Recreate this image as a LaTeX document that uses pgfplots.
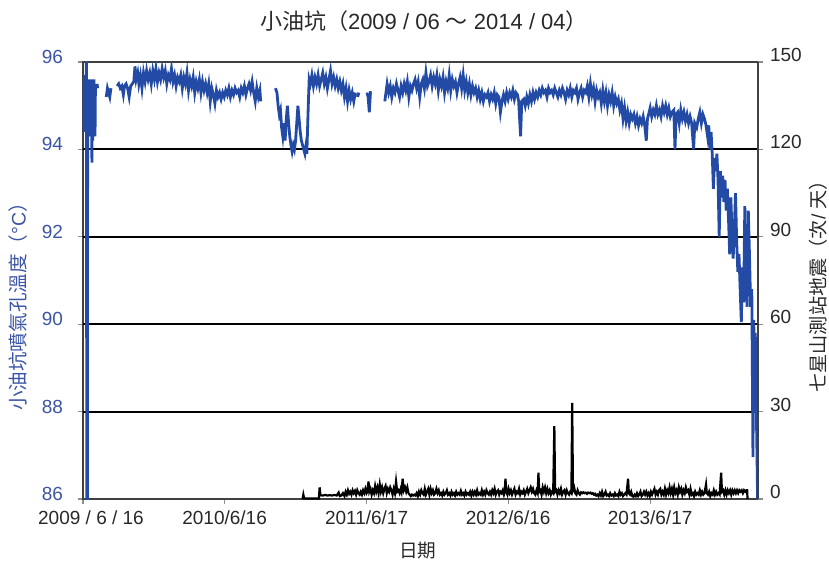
\documentclass[border=0pt]{standalone}
\usepackage{pgfplots}
\pgfplotsset{compat=1.18}
\usepackage{fontspec}
\setmainfont{Liberation Sans}
\newfontfamily\cjk{Noto Sans CJK TC}
\definecolor{tblue}{RGB}{35,75,165}
\definecolor{lblue}{RGB}{60,85,165}
\definecolor{tgray}{RGB}{40,40,40}
\begin{document}
\begin{tikzpicture}
\pgfplotsset{
  common/.style={scale only axis, width=337.5pt, height=218.5pt, xmin=0, xmax=1740,
    /pgf/number format/assume math mode=true,
    tick align=outside, major tick length=2.5pt,
    every tick/.style={black!45, line width=0.6pt},
    tick label style={font=\fontsize{9.5}{11}\selectfont},
    axis line style={black!75, line width=1pt},
    clip mode=individual,
  }
}
\begin{axis}[common, name=main, ymin=86, ymax=96, ytick={86,88,...,96}, ytick pos=left, xtick pos=bottom,
  xtick={0,365,731,1096,1462},
  xticklabels={\hspace*{8pt}2009 / 6 / 16,2010/6/16,2011/6/17,2012/6/16,2013/6/17},
  xticklabel style={text=tgray},
  yticklabel style={text=lblue, yshift=2.5pt, xshift=-4pt},
  extra y ticks={88,90,92,94}, extra y tick labels={},
  extra y tick style={ymajorgrids=true, major tick length=0pt},
  major grid style={black, line width=1pt},
  unbounded coords=jump]
\addplot[tblue, line width=1.4pt] coordinates {
(1,94.6)(2,95.6)(3,94.4)(4,95.7)(5,94.5)(6,95.5)(7,94.8)(8,95.6)(9,96.5)(10,80)(11,80)(12,95.2)(13,94.5)(14,95.6)(15,94.3)(16,95.5)(17,94.6)(18,95.6)(19,94.4)(20,95.4)(21,94.8)(22,95.6)(23,93.7)(24,95.5)(25,94.2)(26,95.4)(27,94.4)(28,95.6)(29,94.8)(30,95.5)(31,94.3)(32,95.4)(33,nan)
(36,95.5)(38,95.4)(39,nan)
(60,95.2)(63,95.4)(66,95.3)(69,95.2)(72,95.4)(73,nan)
(88,95.45)(92,95.5)(96,95.4)(100,95.45)(104,95.25)(107,95.45)(111,95.5)(115,95.4)(119,95.2)(123,95.45)(127,95.5)(131,95.55)(134,95.9)(137,95.6)
(141,95.75)(144,95.5)(148,95.7)(152,95.4)(156,95.75)(160,95.55)(164,95.8)(168,95.6)(172,95.75)(176,95.5)(180,95.8)(184,95.6)(188,95.85)(192,95.55)(196,95.75)(200,95.6)(204,95.85)(208,95.65)(212,95.8)(216,95.5)(220,95.7)(224,95.6)(228,95.85)(232,95.55)(236,95.7)(240,95.45)(244,95.65)(248,95.55)
(252,95.7)(256,95.4)(260,95.65)(264,95.5)(268,95.75)(272,95.35)(276,95.6)(280,95.45)(284,95.65)(288,95.3)(292,95.55)(296,95.4)(300,95.6)(304,95.3)(308,95.55)(312,95.35)(316,95.5)
(320,95.3)(324,95.5)(328,95.1)(332,95.4)(336,95.25)(340,95.05)(344,95.35)(348,95.2)(352,95.3)
(356,95.15)(360,95.3)(364,95.2)(368,95.35)(372,95.25)(376,95.4)(380,95.2)(384,95.35)(388,95.25)(392,95.4)(396,95.3)(400,95.35)(404,95.2)(408,95.4)(412,95.3)(416,95.45)(420,95.25)(424,95.4)
(428,95.5)(432,95.35)(436,95.55)(440,95.3)(444,95.1)(448,95.4)(452,95.2)(456,95.35)(458,95.1)(459,nan)
(496,95.4)(500,95.3)(503,95.0)(506,94.8)(509,94.9)(512,94.5)(515,94.3)(518,94.6)(521,94.2)(524,94.7)(527,95.0)(530,94.6)(533,94.3)(536,94.1)(539,93.95)(542,94.1)(545,94.0)(548,94.2)(551,94.6)(554,95.0)(557,94.7)(560,94.4)(563,94.2)(566,94.1)(569,94.0)(572,93.9)(575,94.1)(577,93.9)(580,94.8)(583,95.6)
(586,95.5)(590,95.7)(594,95.45)(598,95.65)(602,95.5)(606,95.7)(610,95.45)(614,95.6)(618,95.75)(622,95.5)(626,95.65)(630,95.4)(634,95.6)(638,95.8)(642,95.5)(646,95.65)(650,95.45)(654,95.6)(658,95.4)(662,95.55)(666,95.35)(670,95.5)
(674,95.2)(678,95.4)(682,95.1)(686,95.35)(690,95.15)(694,95.3)(698,95.1)(702,95.3)(703,nan)
(708,95.2)(711,95.3)(712,nan)
(732,95.3)(735,95.2)(738,94.85)(741,95.3)(744,95.3)(745,nan)
(778,95.1)(781,95.3)(784,95.5)(788,95.3)(792,95.45)(796,95.2)(800,95.4)(804,95.3)(808,95.5)(812,95.35)(816,95.2)(820,95.45)(824,95.3)(828,95.5)(832,95.35)(836,95.55)(840,95.2)(844,95.45)(848,95.35)(852,95.5)(856,95.6)(860,95.4)(864,95.55)(868,95.2)(872,95.5)(876,95.6)(880,95.4)(884,95.75)(888,95.45)
(892,95.55)(896,95.7)(900,95.45)(904,95.65)(908,95.5)(912,95.7)(916,95.35)(920,95.6)(924,95.45)(928,95.65)(932,95.3)(936,95.55)(940,95.4)(944,95.7)(948,95.35)(952,95.6)(956,95.45)(960,95.55)(964,95.3)(968,95.5)(972,95.65)(976,95.4)(980,95.7)(984,95.35)(988,95.55)(992,95.3)(996,95.5)(1000,95.25)(1004,95.45)(1008,95.3)(1012,95.4)
(1016,95.2)(1020,95.35)(1024,95.15)(1028,95.3)(1032,95.1)(1036,95.25)(1040,95.2)(1044,95.3)(1048,95.1)(1052,95.25)(1056,95.15)(1060,95.3)(1064,95.05)(1068,95.25)(1072,95.2)
(1076,94.85)(1080,95.1)(1084,95.25)(1088,95.1)(1092,95.3)(1096,95.15)(1100,95.3)(1104,95.2)(1108,95.35)(1112,95.15)(1116,95.3)(1120,95.25)(1123,95.1)(1128,94.3)(1131,95.1)
(1136,95.15)(1140,95.0)(1144,95.2)(1148,95.05)(1152,95.25)(1156,95.1)(1160,95.3)(1164,95.15)(1168,95.3)(1172,95.2)(1176,95.35)
(1180,95.25)(1184,95.4)(1188,95.3)(1192,95.35)(1196,95.2)(1200,95.4)(1204,95.3)(1208,95.35)(1212,95.25)(1216,95.4)(1220,95.3)(1224,95.2)(1228,95.35)(1232,95.25)(1236,95.4)(1240,95.3)(1244,95.15)(1248,95.35)(1252,95.25)(1256,95.4)(1260,95.2)(1264,95.35)(1268,95.3)(1272,95.4)(1276,95.15)(1280,95.3)(1284,95.4)(1288,95.2)(1292,95.35)(1296,95.3)
(1300,95.45)(1304,95.2)(1308,95.5)(1312,95.25)(1316,95.4)(1320,95.1)(1324,95.35)(1328,95.2)
(1332,95.3)(1336,95.05)(1340,95.35)(1344,95.1)(1348,95.3)(1352,95.0)(1356,95.25)(1360,95.1)(1364,95.3)(1368,95.0)(1372,95.2)(1376,95.05)(1380,95.15)
(1384,94.9)(1388,95.05)(1392,94.7)(1396,94.95)(1400,94.65)(1404,94.85)(1408,94.6)(1412,94.8)(1416,94.7)
(1420,94.8)(1424,94.6)(1428,94.75)(1432,94.55)(1436,94.7)(1440,94.6)(1444,94.75)(1448,94.55)(1452,94.2)(1455,94.7)
(1458,94.8)(1462,94.95)(1466,94.75)(1470,94.9)(1474,94.8)(1478,95.0)(1482,94.8)(1486,94.9)(1490,94.75)(1494,95.0)(1498,94.85)(1502,95.0)(1506,94.8)(1510,94.95)(1514,94.75)(1518,94.85)
(1523,94.9)(1526,94.0)(1529,94.8)(1533,94.85)(1537,94.6)(1541,94.9)(1545,94.7)(1549,94.85)(1553,94.65)(1557,94.8)(1561,94.6)(1565,94.75)(1569,94.6)
(1574,94.0)(1577,94.6)(1582,94.5)(1586,94.7)(1590,94.85)(1594,94.6)(1598,94.8)(1602,94.7)(1606,94.55)
(1610,94.3)(1613,94.55)(1616,94.0)(1619,94.4)(1622,93.9)(1625,93.1)(1628,93.8)(1631,93.5)(1634,93.9)(1637,93.3)(1640,92.0)(1643,93.5)(1646,92.9)(1649,93.4)(1652,92.8)(1655,93.3)(1658,92.6)(1661,93.1)(1664,92.4)(1667,91.6)(1670,92.9)(1673,92.1)(1676,91.5)(1679,92.2)(1682,93.0)(1685,91.9)(1688,91.2)(1691,91.6)(1694,90.8)(1697,90.05)(1700,91.3)(1703,90.5)(1706,92.7)(1709,91.0)(1712,90.4)(1715,92.6)(1718,91.6)(1721,90.4)(1724,90.8)(1727,86.96)(1729,90.1)(1731,88.9)(1733,89.8)(1735,88.5)(1739,86.0)
};
\node[font=\cjk\fontsize{11}{13}\selectfont, text=tgray] at (axis description cs:0.505,1.094) {小油坑（\fontspec{Liberation Sans}2009 / 06 {\cjk ～} 2014 / 04{\cjk ）}};
\node[font=\cjk\fontsize{9.8}{11}\selectfont, text=lblue, rotate=90] at (axis description cs:-0.096,0.451) {小油坑噴氣孔溫度（{\fontspec{Liberation Sans}°C}）};
\node[font=\cjk\fontsize{9.6}{11}\selectfont, text=tgray, rotate=90] at (axis description cs:1.089,0.497) {七星山測站地震（次{\fontspec{Liberation Sans} / }天）};
\node[font=\cjk\fontsize{9.3}{11}\selectfont, text=tgray] at (axis description cs:0.496,-0.119) {日期};
\end{axis}
\begin{axis}[common, ymin=0, ymax=150, ytick={0,30,...,150}, axis y line*=right, axis x line=none,
  yticklabel style={text=tgray, yshift=3.5pt}]
\addplot[black, line width=1.1pt] coordinates {
(566,0)(568,1.5)(570,0.2)(580,0.2)(590,0.2)(600,0.2)(608,0.2)(610,4)(612,1.3)
(618,1.2)(624,1.4)(630,1.2)(636,1.3)(642,1.2)(648,1.4)(654,1.2)(659,2.2)(662,1)
(666,1.2)(670,2)(674,1)(677,2.5)(680,1.5)(683,3)(686,1.8)(689,2.5)(692,1.5)(695,3)(698,2)(701,2.8)(704,1.5)(707,3)(710,2)(713,1.5)(716,2.5)(719,1.5)(722,3)(725,2)(728,3.5)(731,2)(733,2.5)(736,6)(738,2.5)(741,3.5)(744,1.5)(747,3)(750,2)(753,4.5)(756,2.5)(759,4)(762,2)(765,5)(768,2.5)(771,4)(774,2)(777,3.5)(780,4.5)(783,2)(786,3.5)(789,2.5)(792,4)(795,3)(798,1.5)(801,3.5)(804,2)(807,6)(810,2.5)(813,3)(816,2)(819,3.5)(821,2.5)(824,7)(827,3)(830,4)(833,2.5)(836,4)(839,2)(842,1.5)(845,1)(848,1.5)(851,1.2)(854,1.5)(857,1.2)(860,2)(863,1)(866,2.5)(869,1.5)(872,3)(875,2)(878,1.5)(881,3.5)(884,1.5)(887,2.5)(890,3.5)(893,1.5)(896,3.5)(899,2)(902,3)(905,1.5)(908,2)(911,3.5)(914,2)(917,3)(920,1.5)(923,2)(926,1.2)(929,2.5)(932,1.5)(935,2)(938,3)(941,1.5)(944,2)(947,1.2)(950,2.5)(953,1.5)(956,2)(959,1.2)(962,2.5)(965,1.5)(968,2)(971,1.5)(974,2.8)(977,1.5)(980,2)(983,1.2)(986,2.5)(989,1.5)(992,2)(995,1.5)(998,2.5)
(1001,1.2)(1004,2.5)(1007,1.5)(1010,2.5)(1013,1.5)(1016,3)(1019,1.5)(1022,2)(1025,1.5)(1028,3)(1031,1.5)(1034,2.5)(1037,1.5)(1040,3)(1043,2)(1046,1.5)(1049,2.5)(1052,1.5)(1055,3)(1058,2)(1061,3.5)(1064,1.5)(1067,2.5)(1070,3)(1073,1.5)(1076,2.5)(1079,2)(1082,3)(1085,1.5)(1087,2.5)(1089,7)(1091,2.5)(1094,1.5)(1097,3.5)(1100,2)(1103,3)(1106,1.5)(1109,2.5)(1112,3.5)(1115,1.5)(1118,2.5)(1121,2)(1124,3.5)(1127,1.5)(1130,2.5)(1133,2)(1136,3)(1139,1.5)(1142,2.5)(1145,3.5)(1148,2)(1151,3)(1154,4)(1157,2.5)(1160,3.5)(1163,2)(1166,1.5)(1169,3)(1172,2)(1174,9)(1176,2.5)(1179,3)(1182,1.5)(1185,4)(1188,2.5)(1191,4)(1194,2)(1197,3.5)(1200,2)(1203,3)(1206,1.5)(1209,2.5)(1212,2)(1215,25)(1217,2.5)(1220,3)(1223,1.5)(1226,3)(1229,2)(1232,3.5)(1235,1.5)(1238,2.5)(1241,3)(1244,1.5)(1247,3)(1250,2)(1253,1.5)(1256,2.5)(1259,2)(1261,33)(1263,3)(1266,4)(1269,2)(1272,1.5)(1275,3)(1278,2)(1281,1.5)(1284,2.3)(1287,2)(1290,2.3)(1293,2)(1296,2.2)(1299,1.8)
(1302,2.2)(1305,2)(1308,2.2)(1311,1.8)(1314,2)(1317,1.5)(1320,1.8)(1323,1.2)(1326,1.5)(1329,1)(1332,2)(1335,1.2)(1338,2.5)(1341,1)(1344,1.5)(1347,2.5)(1350,1.2)(1353,1.5)(1356,1)(1359,2)(1362,1.2)(1365,1.5)(1368,1)(1371,2)(1374,1.2)(1377,1.5)(1380,1)(1383,2.5)(1386,1.5)(1389,2)(1392,1)(1395,1.5)(1398,2)(1401,1.5)(1405,7)(1407,2)(1410,1.5)(1413,2.5)(1416,1)(1419,0.8)(1422,1.5)(1425,1)(1428,2)(1431,1)(1434,1.5)(1437,2.5)(1440,1)(1443,1.5)(1446,2.5)(1449,1.5)(1452,2.5)(1455,1.2)(1458,2)(1461,1)(1464,2.5)(1467,1.5)(1470,2.5)(1473,3.5)(1476,1.5)(1479,2.5)(1482,1.5)(1485,3)(1488,3.5)(1491,1.5)(1494,2.5)(1497,1.5)(1500,3.5)
(1503,1.5)(1506,3)(1509,2)(1512,4)(1515,2)(1518,3.5)(1521,1.5)(1524,4)(1527,2)(1530,3)(1533,1.5)(1536,4)(1539,2.5)(1542,3.5)(1545,1.5)(1548,3)(1551,2)(1554,4)(1557,2.5)(1560,3)(1563,1.5)(1566,3.5)(1569,1.5)(1572,2)(1575,1)(1578,2.5)(1581,1.5)(1584,2)(1587,1.5)(1590,3)(1593,1.5)(1596,2.5)(1599,1.5)(1602,2)(1606,5)(1608,2)(1611,1.5)(1614,2.5)(1617,1)(1620,2)(1623,1.5)(1626,3)(1629,1.5)(1632,2.5)(1635,1.5)(1638,2)(1641,1.5)(1645,9)(1647,2.5)(1650,3)(1653,1.5)(1656,3)(1659,1.5)(1662,3)(1665,2)(1668,3)(1671,1.5)(1674,3)(1677,2)(1680,3)(1683,2)(1686,3)(1689,2)(1692,3)(1695,2.5)(1698,3)(1701,2)(1704,3)(1707,2.5)(1710,3)(1712,3)(1713,0)
};
\end{axis}
\pgfresetboundingbox
\path[use as bounding box] ([shift={(-41.5pt,-32pt)}]main.south west) rectangle ([shift={(35.5pt,31pt)}]main.north east);
\end{tikzpicture}
\end{document}
